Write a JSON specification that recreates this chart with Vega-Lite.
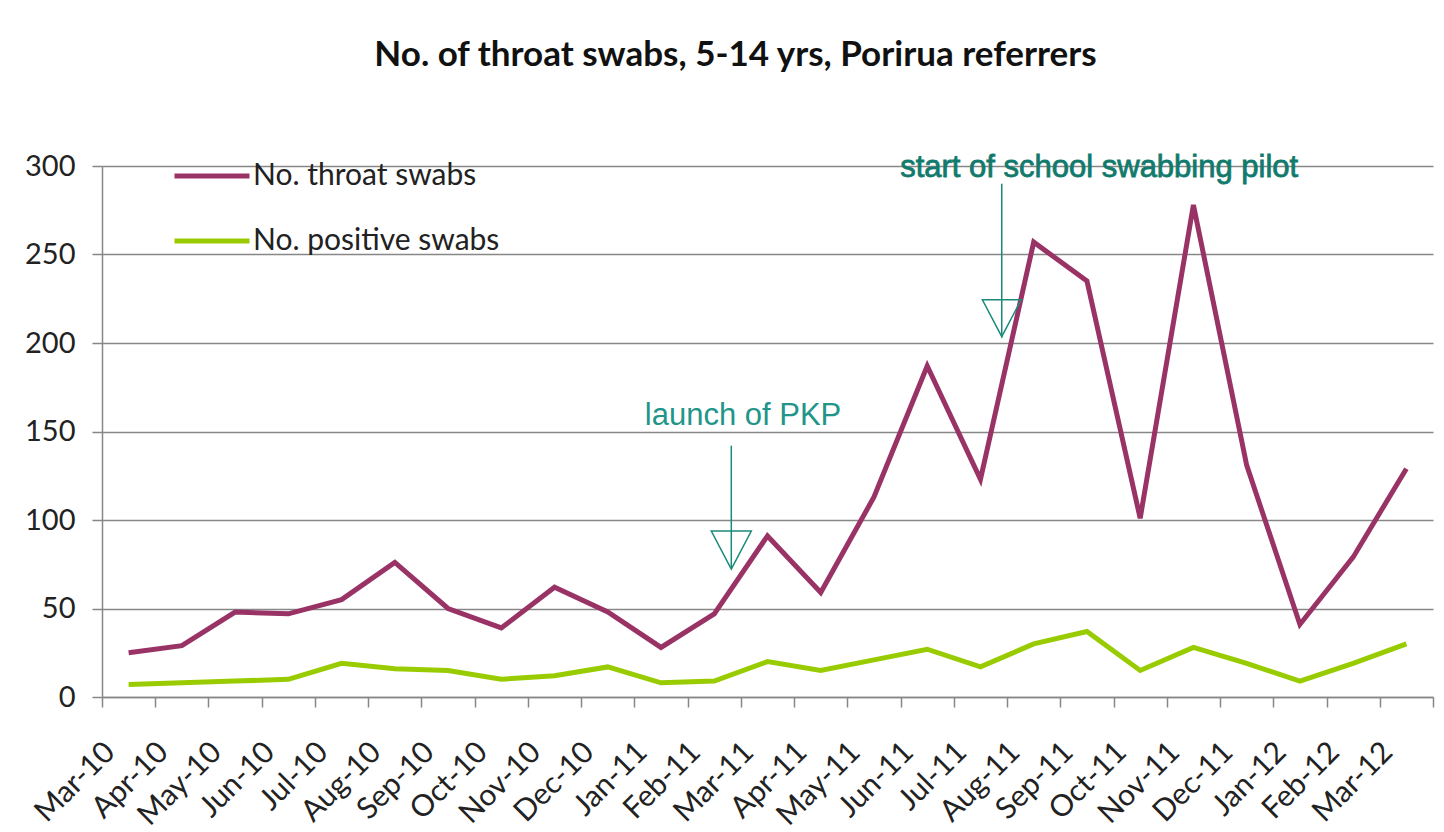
{
  "$schema": "https://vega.github.io/schema/vega-lite/v6.json",
  "autosize": {"type": "none"},
  "width": 1331,
  "height": 531,
  "padding": {"left": 102, "top": 166, "right": 11, "bottom": 135},
  "background": "white",
  "title": {
    "text": "No. of throat swabs, 5-14 yrs, Porirua referrers",
    "font": "Lato",
    "fontSize": 35,
    "fontWeight": "bold",
    "color": "#111111",
    "anchor": "middle",
    "frame": "group",
    "dx": -32,
    "offset": 63
  },
  "config": {
    "view": {"stroke": null},
    "axis": {
      "labelFont": "Lato",
      "labelColor": "#222222",
      "domainColor": "#878787",
      "domainWidth": 1.5,
      "tickColor": "#878787",
      "tickWidth": 1.5,
      "tickSize": 10,
      "gridColor": "#878787",
      "gridWidth": 1.5
    }
  },
  "layer": [
    {
      "data": {
        "values": [
          {"month": "Mar-10", "series": "No. throat swabs", "value": 25},
          {"month": "Apr-10", "series": "No. throat swabs", "value": 29},
          {"month": "May-10", "series": "No. throat swabs", "value": 48},
          {"month": "Jun-10", "series": "No. throat swabs", "value": 47},
          {"month": "Jul-10", "series": "No. throat swabs", "value": 55},
          {"month": "Aug-10", "series": "No. throat swabs", "value": 76},
          {"month": "Sep-10", "series": "No. throat swabs", "value": 50},
          {"month": "Oct-10", "series": "No. throat swabs", "value": 39},
          {"month": "Nov-10", "series": "No. throat swabs", "value": 62},
          {"month": "Dec-10", "series": "No. throat swabs", "value": 48},
          {"month": "Jan-11", "series": "No. throat swabs", "value": 28},
          {"month": "Feb-11", "series": "No. throat swabs", "value": 47},
          {"month": "Mar-11", "series": "No. throat swabs", "value": 91},
          {"month": "Apr-11", "series": "No. throat swabs", "value": 59},
          {"month": "May-11", "series": "No. throat swabs", "value": 113},
          {"month": "Jun-11", "series": "No. throat swabs", "value": 187},
          {"month": "Jul-11", "series": "No. throat swabs", "value": 123},
          {"month": "Aug-11", "series": "No. throat swabs", "value": 257},
          {"month": "Sep-11", "series": "No. throat swabs", "value": 235},
          {"month": "Oct-11", "series": "No. throat swabs", "value": 101},
          {"month": "Nov-11", "series": "No. throat swabs", "value": 278},
          {"month": "Dec-11", "series": "No. throat swabs", "value": 131},
          {"month": "Jan-12", "series": "No. throat swabs", "value": 41},
          {"month": "Feb-12", "series": "No. throat swabs", "value": 79},
          {"month": "Mar-12", "series": "No. throat swabs", "value": 129},
          {"month": "Mar-10", "series": "No. positive swabs", "value": 7},
          {"month": "Apr-10", "series": "No. positive swabs", "value": 8},
          {"month": "May-10", "series": "No. positive swabs", "value": 9},
          {"month": "Jun-10", "series": "No. positive swabs", "value": 10},
          {"month": "Jul-10", "series": "No. positive swabs", "value": 19},
          {"month": "Aug-10", "series": "No. positive swabs", "value": 16},
          {"month": "Sep-10", "series": "No. positive swabs", "value": 15},
          {"month": "Oct-10", "series": "No. positive swabs", "value": 10},
          {"month": "Nov-10", "series": "No. positive swabs", "value": 12},
          {"month": "Dec-10", "series": "No. positive swabs", "value": 17},
          {"month": "Jan-11", "series": "No. positive swabs", "value": 8},
          {"month": "Feb-11", "series": "No. positive swabs", "value": 9},
          {"month": "Mar-11", "series": "No. positive swabs", "value": 20},
          {"month": "Apr-11", "series": "No. positive swabs", "value": 15},
          {"month": "May-11", "series": "No. positive swabs", "value": 21},
          {"month": "Jun-11", "series": "No. positive swabs", "value": 27},
          {"month": "Jul-11", "series": "No. positive swabs", "value": 17},
          {"month": "Aug-11", "series": "No. positive swabs", "value": 30},
          {"month": "Sep-11", "series": "No. positive swabs", "value": 37},
          {"month": "Oct-11", "series": "No. positive swabs", "value": 15},
          {"month": "Nov-11", "series": "No. positive swabs", "value": 28},
          {"month": "Dec-11", "series": "No. positive swabs", "value": 19},
          {"month": "Jan-12", "series": "No. positive swabs", "value": 9},
          {"month": "Feb-12", "series": "No. positive swabs", "value": 19},
          {"month": "Mar-12", "series": "No. positive swabs", "value": 30}
        ]
      },
      "mark": {"type": "line", "strokeWidth": 5},
      "encoding": {
        "x": {
          "field": "month",
          "type": "ordinal",
          "title": null,
          "scale": {
            "type": "band",
            "paddingInner": 0,
            "paddingOuter": 0,
            "domain": ["Mar-10","Apr-10","May-10","Jun-10","Jul-10","Aug-10","Sep-10","Oct-10","Nov-10","Dec-10","Jan-11","Feb-11","Mar-11","Apr-11","May-11","Jun-11","Jul-11","Aug-11","Sep-11","Oct-11","Nov-11","Dec-11","Jan-12","Feb-12","Mar-12"]
          },
          "axis": {
            "labelAngle": -45,
            "labelAlign": "right",
            "labelBaseline": "middle",
            "labelFontSize": 30,
            "labelPadding": 40,
            "labelOffset": -19,
            "tickBand": "extent",
            "grid": false
          }
        },
        "y": {
          "field": "value",
          "type": "quantitative",
          "title": null,
          "scale": {"domain": [0, 300], "nice": false},
          "axis": {
            "values": [0, 50, 100, 150, 200, 250, 300],
            "labelFontSize": 29,
            "labelPadding": 17,
            "grid": true
          }
        },
        "color": {
          "field": "series",
          "type": "nominal",
          "sort": ["No. throat swabs", "No. positive swabs"],
          "scale": {"domain": ["No. throat swabs", "No. positive swabs"], "range": ["#993366", "#99CC00"]},
          "legend": {
            "title": null,
            "orient": "none",
            "legendX": 70,
            "legendY": -30,
            "symbolType": "stroke",
            "symbolSize": 5625,
            "symbolStrokeWidth": 5,
            "labelFont": "Lato",
            "labelFontSize": 30,
            "labelColor": "#222222",
            "labelOffset": 1,
            "labelLimit": 0,
            "rowPadding": 10
          }
        }
      }
    },
    {
      "data": {"values": [{"month": "Feb-11", "top": 142, "tip": 73, "head": 83}]},
      "encoding": {"x": {"field": "month", "type": "ordinal", "bandPosition": 0.82}},
      "layer": [
        {"mark": {"type": "rule", "color": "#1a8a7a", "strokeWidth": 1.5}, "encoding": {"y": {"field": "top", "type": "quantitative"}, "y2": {"field": "tip"}}},
        {"mark": {"type": "point", "shape": "M-1,-0.95L1,-0.95L0,0.95Z", "size": 1600, "filled": false, "stroke": "#1a8a7a", "strokeWidth": 1.5, "opacity": 1}, "encoding": {"y": {"field": "head", "type": "quantitative"}}}
      ]
    },
    {
      "data": {"values": [{"month": "Jul-11", "top": 290, "tip": 203, "head": 214}]},
      "encoding": {"x": {"field": "month", "type": "ordinal", "bandPosition": 0.9}},
      "layer": [
        {"mark": {"type": "rule", "color": "#1a8a7a", "strokeWidth": 1.5}, "encoding": {"y": {"field": "top", "type": "quantitative"}, "y2": {"field": "tip"}}},
        {"mark": {"type": "point", "shape": "M-1,-0.95L1,-0.95L0,0.95Z", "size": 1500, "filled": false, "stroke": "#1a8a7a", "strokeWidth": 1.5, "opacity": 1}, "encoding": {"y": {"field": "head", "type": "quantitative"}}}
      ]
    },
    {
      "data": {"values": [{"month": "Mar-11", "label": "launch of PKP", "y": 159}]},
      "mark": {"type": "text", "font": "Liberation Sans", "fontSize": 31, "color": "#22958a", "align": "center", "baseline": "middle"},
      "encoding": {
        "x": {"field": "month", "type": "ordinal", "bandPosition": 0.04},
        "y": {"field": "y", "type": "quantitative"},
        "text": {"field": "label"}
      }
    },
    {
      "data": {"values": [{"month": "Sep-11", "label": "start of school swabbing pilot", "y": 299}]},
      "mark": {"type": "text", "font": "Liberation Sans", "fontSize": 31, "color": "#117a6c", "stroke": "#117a6c", "strokeWidth": 0.8, "align": "center", "baseline": "middle"},
      "encoding": {
        "x": {"field": "month", "type": "ordinal", "bandPosition": 0.73},
        "y": {"field": "y", "type": "quantitative"},
        "text": {"field": "label"}
      }
    }
  ]
}
